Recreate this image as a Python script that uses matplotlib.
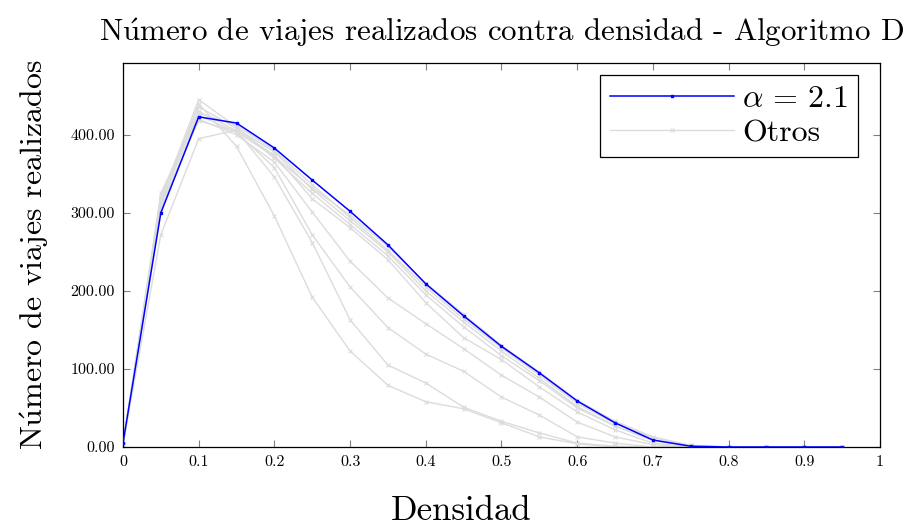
import matplotlib
matplotlib.use("Agg")
import matplotlib.pyplot as plt
from matplotlib.ticker import FuncFormatter

plt.rcParams["font.family"] = ["cmr10", "DejaVu Serif"]
plt.rcParams["mathtext.fontset"] = "cm"
plt.rcParams["axes.unicode_minus"] = False
plt.rcParams["axes.formatter.use_mathtext"] = True

densidad = [0.0, 0.05, 0.1, 0.15, 0.2, 0.25, 0.3, 0.35, 0.4, 0.45,
            0.5, 0.55, 0.6, 0.65, 0.7, 0.75, 0.8, 0.85, 0.9, 0.95]

# alpha = 2.1
viajes_a21 = [5, 300, 423, 415, 383, 342, 302, 259, 209, 168,
              129, 95, 59, 31, 9, 1, 0, 0, 0, 0]

# resto de valores de alpha
otros = [
    [3, 310, 440, 385, 296, 192, 123, 79, 58, 49, 31, 13, 4, 0, 0, 0, 0, 0, 0, 0],
    [3, 320, 430, 405, 346, 262, 163, 105, 82, 51, 33, 18, 5, 1, 0, 0, 0, 0, 0, 0],
    [3, 315, 425, 403, 358, 272, 205, 153, 119, 97, 64, 41, 13, 5, 0, 0, 0, 0, 0, 0],
    [3, 305, 420, 400, 365, 301, 238, 191, 158, 126, 92, 64, 32, 13, 3, 0, 0, 0, 0, 0],
    [3, 272, 395, 406, 374, 318, 281, 240, 185, 140, 112, 77, 45, 22, 5, 0, 0, 0, 0, 0],
    [3, 318, 445, 410, 370, 325, 285, 245, 195, 154, 117, 85, 50, 27, 8, 1, 0, 0, 0, 0],
    [3, 322, 436, 408, 378, 330, 290, 250, 200, 160, 123, 88, 52, 27, 9, 1, 0, 0, 0, 0],
    [3, 325, 428, 412, 380, 336, 294, 252, 205, 164, 127, 92, 56, 30, 12, 2, 0, 0, 0, 0],
    [3, 310, 418, 404, 372, 332, 297, 257, 210, 170, 130, 96, 60, 33, 13, 2, 0, 0, 0, 0],
]

xticks = [0, 0.1, 0.2, 0.3, 0.4, 0.5, 0.6, 0.7, 0.8, 0.9, 1]
xlabels = ["0", "0.1", "0.2", "0.3", "0.4", "0.5", "0.6", "0.7", "0.8", "0.9", "1"]
yticks = [0, 100, 200, 300, 400]

fig = plt.figure(figsize=(9.09, 5.27), dpi=100)
ax = fig.add_axes([0.1353, 0.1518, 0.8327, 0.7287])

gris = "#dcdcdc"
for i, serie in enumerate(otros):
    ax.plot(densidad, serie, color=gris, lw=1.0, marker="x", ms=2.2, mew=0.8,
            label="Otros" if i == 0 else None, zorder=2)
ax.plot(densidad, viajes_a21, color="#0000ff", lw=1.1, marker="s", ms=1.8,
        label=r"$\alpha\,=\,2.1$", zorder=3)

ax.set_xlim(0, 1)
ax.set_ylim(0, 492)
ax.set_xticks(xticks)
ax.set_xticklabels(xlabels)
ax.set_yticks(yticks)
ax.yaxis.set_major_formatter(FuncFormatter(lambda v, p: f"{v:.2f}"))
ax.tick_params(direction="in", length=5, width=0.8, color="#808080",
               labelsize=11.5, top=True, right=True, pad=6)
for s in ax.spines.values():
    s.set_linewidth(0.9)

ax.set_title(r"N$\acute{\mathrm{u}}$mero de viajes realizados contra densidad - Algoritmo D",
             fontsize=22.3, pad=16)
ax.set_xlabel("Densidad", fontsize=25)
ax.xaxis.set_label_coords(0.447, -0.125)
ax.set_ylabel(r"N$\acute{\mathrm{u}}$mero de viajes realizados", fontsize=23, labelpad=14)

handles, labels = ax.get_legend_handles_labels()
leg = ax.legend(handles[::-1], labels[::-1], loc="upper right", fontsize=23,
                handlelength=3.9, handletextpad=0.25, borderpad=0.3,
                labelspacing=0.2, fancybox=False, framealpha=1,
                edgecolor="black", borderaxespad=0,
                bbox_to_anchor=(0.971, 0.969))
leg.get_frame().set_linewidth(0.9)

fig.savefig("out.png", dpi=100)
